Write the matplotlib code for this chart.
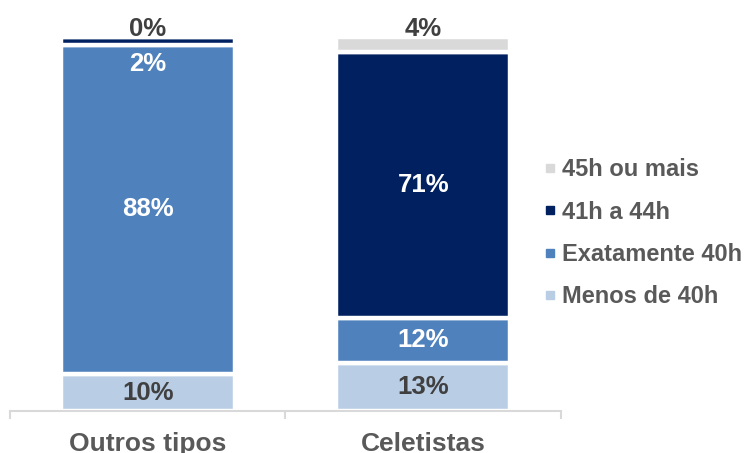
import matplotlib
matplotlib.use('Agg')
import matplotlib.pyplot as plt
from matplotlib.lines import Line2D
import numpy as np

plt.rcParams['font.family'] = ['Liberation Sans', 'DejaVu Sans']
plt.rcParams['font.weight'] = 'bold'

categories = ['Outros tipos', 'Celetistas']
series = ['Menos de 40h', 'Exatamente 40h', '41h a 44h', '45h ou mais']
menos_40 = [10, 13]
exato_40 = [88, 12]
de_41_44 = [2, 71]
mais_45 = [0, 4]

values = [menos_40, exato_40, de_41_44, mais_45]
colors = ['#b9cde5', '#4f81bd', '#002060', '#d9d9d9']
label_colors = ['#404040', 'white', 'white', '#404040']

fig = plt.figure(figsize=(7.44, 4.53), dpi=100)
ax = fig.add_axes([0.0134, 0.092, 0.7406, 0.826])

x = np.arange(len(categories))
bottom = np.zeros(len(categories))
for vals, col, tcol in zip(values, colors, label_colors):
    vals = np.array(vals, dtype=float)
    ax.bar(x, vals, width=0.63, bottom=bottom, color=col,
           edgecolor='white', linewidth=3.2)
    for xi, v, b in zip(x, vals, bottom):
        txt = f'{v:.0f}%'
        if col == '#d9d9d9':
            # top series: label sits just above the bar
            ax.annotate(txt, (xi, b + v), xytext=(0, 0.5), textcoords='offset points',
                        ha='center', va='baseline', color=tcol, fontsize=18.5)
        elif v < 3:
            ax.annotate(txt, (xi, b), xytext=(0, -5), textcoords='offset points',
                        ha='center', va='top', color=tcol, fontsize=18.5)
        else:
            ax.text(xi, b + v / 2, txt, ha='center', va='center',
                    color=tcol, fontsize=18.5)
    bottom += vals

ax.set_xlim(-0.5, 1.5)
ax.set_ylim(0, 100)
ax.set_yticks([])
for s in ['left', 'top', 'right']:
    ax.spines[s].set_visible(False)
ax.spines['bottom'].set_color('#d9d9d9')
ax.spines['bottom'].set_linewidth(1.5)

ax.set_xticks(x)
ax.set_xticklabels(categories, fontsize=19, color='#595959')
ax.tick_params(axis='x', which='major', length=0, pad=15)
ax.set_xticks([-0.5, 0.5, 1.5], minor=True)
ax.tick_params(axis='x', which='minor', length=6, width=1.5, color='#d9d9d9')

handles = [Line2D([], [], marker='s', linestyle='none', markersize=5.5,
                  color=c) for c in colors[::-1]]
fig.legend(handles, series[::-1], loc='center left', bbox_to_anchor=(0.714, 0.485),
           frameon=False, fontsize=17, labelcolor='#595959', handlelength=0.6,
           handletextpad=0.2, labelspacing=0.82, borderpad=0)

fig.savefig('out.png', dpi=100)
